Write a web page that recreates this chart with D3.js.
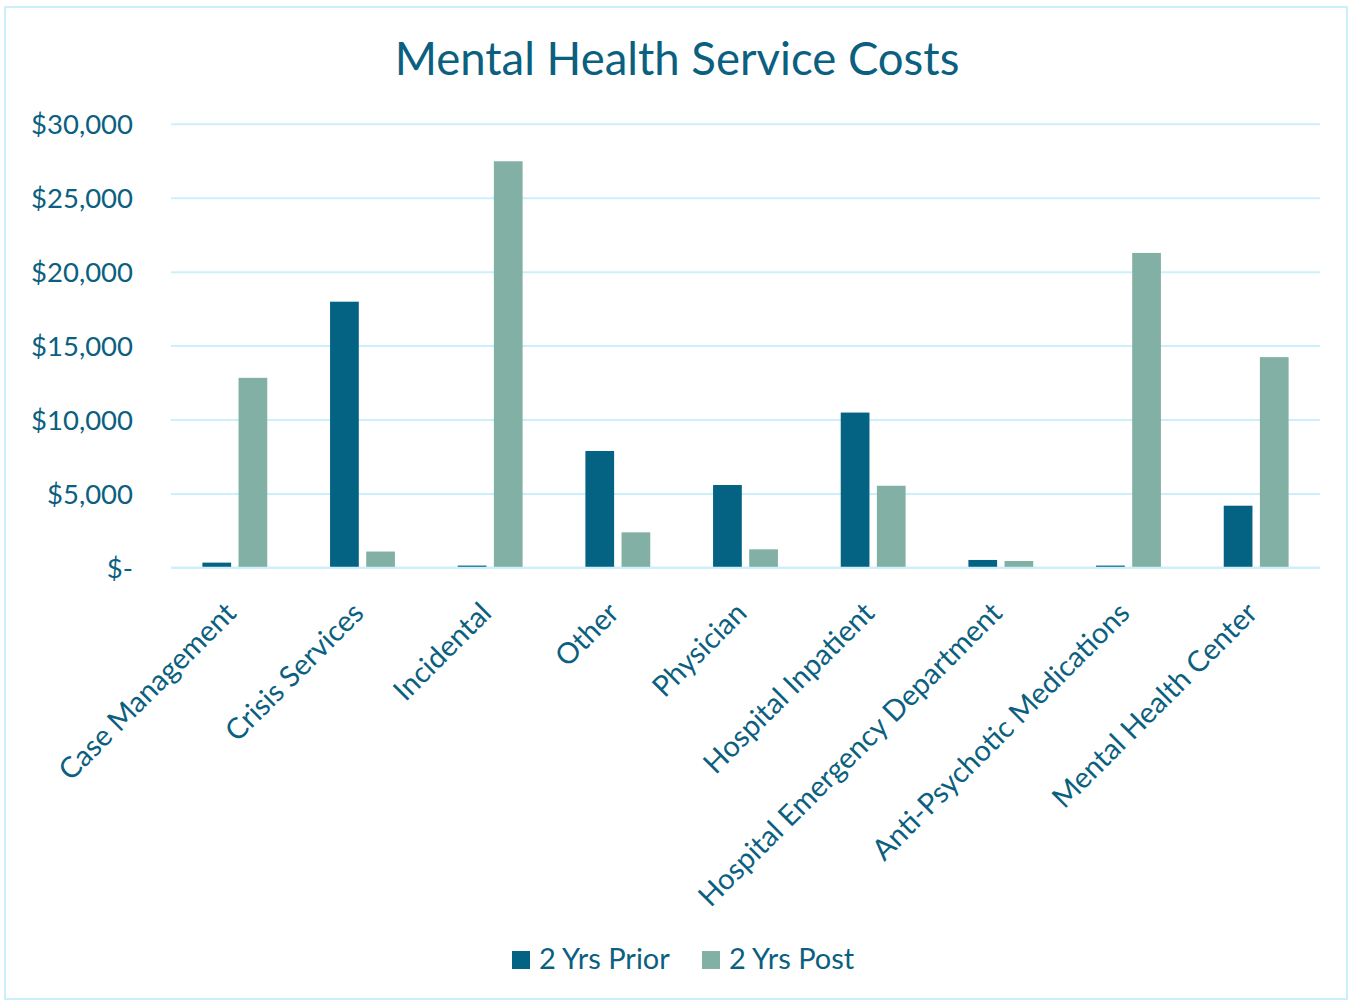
<!DOCTYPE html>
<html>
<head>
<meta charset="utf-8">
<script src="https://cdn.jsdelivr.net/npm/d3@7"></script>
<style>
  html, body { margin: 0; padding: 0; background: #ffffff; }
  svg { display: block; }
  text { font-family: Lato, "Open Sans", sans-serif; }
</style>
</head>
<body>
<svg id="chart" width="1349" height="1001"></svg>
<script>
// Service categories along the x axis
const categories = [
  "Case Management",
  "Crisis Services",
  "Incidental",
  "Other",
  "Physician",
  "Hospital Inpatient",
  "Hospital Emergency Department",
  "Anti-Psychotic Medications",
  "Mental Health Center"
];

// Series names and their costs (USD) per category
const seriesNames = ["2 Yrs Prior", "2 Yrs Post"];
const priorCosts = [350, 18000, 150, 7900, 5600, 10500, 530, 150, 4200];
const postCosts = [12850, 1100, 27500, 2400, 1250, 5550, 460, 21300, 14250];

// Value axis ticks
const yTicks = [0, 5000, 10000, 15000, 20000, 25000, 30000];

const colors = { "2 Yrs Prior": "#046283", "2 Yrs Post": "#83b0a5" };
const textColor = "#0b5f7f";
const gridColor = "#ccf0fb";

const rows = categories.map((c, i) => ({
  category: c,
  values: [
    { key: seriesNames[0], value: priorCosts[i] },
    { key: seriesNames[1], value: postCosts[i] }
  ]
}));

const W = 1349, H = 1001;
const plot = { left: 171, right: 1320, top: 124.3, bottom: 567.8 };

const svg = d3.select("#chart");

// Outer chart frame
svg.append("rect")
  .attr("x", 5).attr("y", 7)
  .attr("width", W - 7).attr("height", H - 9)
  .attr("fill", "#ffffff")
  .attr("stroke", gridColor)
  .attr("stroke-width", 2);

const x0 = d3.scaleBand()
  .domain(categories)
  .range([plot.left, plot.right])
  .paddingInner(0).paddingOuter(0);

const inner = 31.4;
const x1 = d3.scaleBand()
  .domain(seriesNames)
  .range([inner, x0.bandwidth() - inner])
  .paddingInner(0.205);

const y = d3.scaleLinear()
  .domain([0, 30000])
  .range([plot.bottom, plot.top]);

// Horizontal gridlines
svg.append("g")
  .selectAll("line")
  .data(yTicks)
  .join("line")
  .attr("x1", plot.left).attr("x2", plot.right)
  .attr("y1", d => y(d)).attr("y2", d => y(d))
  .attr("stroke", gridColor)
  .attr("stroke-width", 2);

// Value axis labels
const fmt = d3.format(",");
const yAxis = d3.axisLeft(y)
  .tickValues(yTicks)
  .tickSize(0)
  .tickPadding(0)
  .tickFormat(d => d === 0 ? "$-" : "$" + fmt(d));

svg.append("g")
  .attr("transform", `translate(133,0)`)
  .call(yAxis)
  .call(g => g.select(".domain").remove())
  .call(g => g.selectAll("text")
    .attr("fill", textColor)
    .attr("font-size", 27.5)
    .attr("dy", "0.35em"));

// Bars
const groups = svg.append("g")
  .selectAll("g")
  .data(rows)
  .join("g")
  .attr("transform", d => `translate(${x0(d.category)},0)`);

groups.selectAll("rect")
  .data(d => d.values)
  .join("rect")
  .attr("x", d => x1(d.key))
  .attr("width", x1.bandwidth())
  .attr("y", d => y(d.value))
  .attr("height", d => y(0) - y(d.value))
  .attr("fill", d => colors[d.key]);

// Baseline
svg.append("line")
  .attr("x1", plot.left).attr("x2", plot.right)
  .attr("y1", y(0)).attr("y2", y(0))
  .attr("stroke", gridColor)
  .attr("stroke-width", 2);

// Category axis labels, rotated
const xAxis = d3.axisBottom(x0).tickSize(0).tickPadding(0);
svg.append("g")
  .attr("transform", `translate(0,${y(0)})`)
  .call(xAxis)
  .call(g => g.select(".domain").remove())
  .call(g => g.selectAll("text")
    .attr("fill", textColor)
    .attr("font-size", 29)
    .attr("text-anchor", "end")
    .attr("dy", null)
    .attr("y", 0)
    .attr("transform", "translate(3,47) rotate(-45)"));

// Title
svg.append("text")
  .attr("x", 677)
  .attr("y", 75)
  .attr("text-anchor", "middle")
  .attr("fill", textColor)
  .attr("font-size", 45.5)
  .text("Mental Health Service Costs");

// Legend
const legend = svg.append("g").attr("transform", "translate(512,951)");
const legendItems = legend.selectAll("g")
  .data(seriesNames)
  .join("g")
  .attr("transform", (d, i) => `translate(${i * 190},0)`);
legendItems.append("rect")
  .attr("width", 18).attr("height", 18)
  .attr("fill", d => colors[d]);
legendItems.append("text")
  .attr("x", 27).attr("y", 18)
  .attr("fill", textColor)
  .attr("font-size", 29)
  .text(d => d);
</script>
</body>
</html>
